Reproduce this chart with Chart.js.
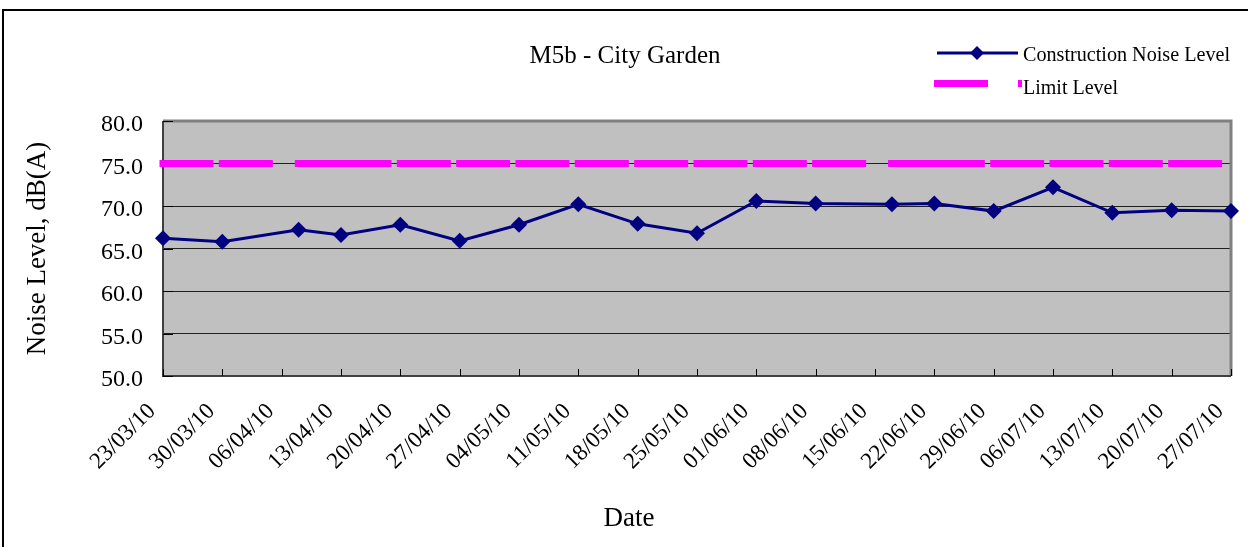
<!DOCTYPE html>
<html>
<head>
<meta charset="utf-8">
<script src="https://cdn.jsdelivr.net/npm/chart.js@4.4.0/dist/chart.umd.min.js"></script>
<style>
  body { margin: 0; background: #fff; }
  canvas { display: block; }
</style>
</head>
<body>
<canvas id="noiseChart" width="1248" height="547"></canvas>
<script>
// survey dates and measured levels
var dates = ['23/03/10', '30/03/10', '08/04/10', '13/04/10', '20/04/10', '27/04/10', '04/05/10',
             '11/05/10', '18/05/10', '25/05/10', '01/06/10', '08/06/10', '17/06/10', '22/06/10',
             '29/06/10', '06/07/10', '13/07/10', '20/07/10', '27/07/10'];
var noiseLevel = [66.2, 65.8, 67.2, 66.6, 67.8, 65.9, 67.8, 70.2, 67.9, 66.8,
                  70.6, 70.3, 70.2, 70.3, 69.4, 72.2, 69.2, 69.5, 69.4];
var limitLevel = [75, 75, 75, 75, 75, 75, 75, 75, 75, 75, 75, 75, 75, 75, 75, 75, 75, 75, 75];
var startDate = '23/03/10';
var endDate = '27/07/10';
var yTicks = [50, 55, 60, 65, 70, 75, 80];

var SERIF = '"Liberation Serif", "DejaVu Serif", serif';

function toDay(s) {
    var p = s.split('/');
    return Date.UTC(2000 + +p[2], +p[1] - 1, +p[0]) / 86400000;
}
function fromDay(d) {
    var dt = new Date(d * 86400000);
    var dd = String(dt.getUTCDate()).padStart(2, '0');
    var mm = String(dt.getUTCMonth() + 1).padStart(2, '0');
    var yy = String(dt.getUTCFullYear() % 100).padStart(2, '0');
    return dd + '/' + mm + '/' + yy;
}

var noisePts = dates.map(function(d, i) { return { x: toDay(d), y: noiseLevel[i] }; });
var limitPts = dates.map(function(d, i) { return { x: toDay(d), y: limitLevel[i] }; });

//**** grey plot background + outer frame
var backdrop = {
    id: 'backdrop',
    beforeDraw: function(chart) {
        var c = chart.ctx, a = chart.chartArea;
        c.save();
        c.fillStyle = '#fff';
        c.fillRect(0, 0, chart.width, chart.height);
        c.fillStyle = '#c0c0c0';
        c.fillRect(a.left, a.top, a.right - a.left, a.bottom - a.top);
        c.strokeStyle = '#000';
        c.lineWidth = 2;
        c.strokeRect(3, 10, 1400, 800);
        c.restore();
    },
    beforeDatasetsDraw: function(chart) {
        var c = chart.ctx, a = chart.chartArea;
        var xs = chart.scales.x, ys = chart.scales.y;
        c.save();
        // top + right edge
        c.strokeStyle = '#808080';
        c.lineWidth = 3;
        c.beginPath();
        c.moveTo(a.left, a.top);
        c.lineTo(a.right, a.top);
        c.lineTo(a.right, a.bottom);
        c.stroke();
        // axes
        c.strokeStyle = '#404040';
        c.lineWidth = 2;
        c.beginPath();
        c.moveTo(a.left, a.top);
        c.lineTo(a.left, a.bottom);
        c.lineTo(a.right, a.bottom);
        c.stroke();
        // tick marks drawn inside the plot
        c.strokeStyle = '#000';
        c.lineWidth = 1;
        c.beginPath();
        yTicks.forEach(function(v) {
            var py = Math.round(ys.getPixelForValue(v)) + 0.5;
            c.moveTo(a.left, py);
            c.lineTo(a.left + 10, py);
        });
        xs.ticks.forEach(function(t) {
            var px = Math.round(xs.getPixelForValue(t.value)) + 0.5;
            c.moveTo(px, a.bottom);
            c.lineTo(px, a.bottom - 7);
        });
        c.stroke();
        c.restore();
    },
    afterDraw: function(chart) {
        var c = chart.ctx;
        c.save();
        c.fillStyle = '#000';
        c.textBaseline = 'middle';
        c.font = '25px ' + SERIF;
        c.textAlign = 'center';
        c.fillText('M5b - City Garden', 625, 56, 196);
        c.font = '27px ' + SERIF;
        c.fillText('Date', 629, 519);

        // legend
        c.textAlign = 'left';
        c.font = '21px ' + SERIF;
        c.strokeStyle = '#000080';
        c.lineWidth = 3;
        c.beginPath();
        c.moveTo(937, 53);
        c.lineTo(1018, 53);
        c.stroke();
        c.fillStyle = '#000080';
        c.beginPath();
        c.moveTo(977, 46);
        c.lineTo(984, 53);
        c.lineTo(977, 60);
        c.lineTo(970, 53);
        c.closePath();
        c.fill();
        c.fillStyle = '#000';
        c.fillText('Construction Noise Level', 1023, 55, 207);

        c.fillStyle = '#ff00ff';
        c.fillRect(934, 80, 54, 7);
        c.fillRect(1018, 80, 4, 7);
        c.fillStyle = '#000';
        c.fillText('Limit Level', 1023, 88, 95);
        c.restore();
    }
};

var ctx = document.getElementById('noiseChart');
var noiseChart = new Chart(ctx, {
    type: 'line',
    data: {
        datasets: [{
            label: 'Construction Noise Level',
            data: noisePts,
            borderColor: '#000080',
            backgroundColor: '#000080',
            borderWidth: 3,
            pointStyle: 'rectRot',
            pointRadius: 8,
            pointBorderWidth: 0,
            pointBackgroundColor: '#000080',
            tension: 0,
            clip: false
        }, {
            label: 'Limit Level',
            data: limitPts,
            borderColor: '#ff00ff',
            borderWidth: 7,
            borderDash: [47, 29],
            borderCapStyle: 'square',
            pointRadius: 0,
            tension: 0,
            clip: false,
            // each segment starts its own dash run, like the original
            segment: {
                borderDashOffset: function(sc) { return sc.p0DataIndex * 0.001; }
            }
        }]
    },
    options: {
        responsive: false,
        animation: false,
        layout: { padding: { left: 0, right: 17, top: 121, bottom: 0 } },
        plugins: {
            legend: { display: false },
            tooltip: { enabled: false }
        },
        scales: {
            x: {
                type: 'linear',
                min: toDay(startDate),
                max: toDay(endDate),
                afterFit: function(s) {
                    s.height = 171;
                    s.paddingLeft = 0;
                    s.paddingRight = 0;
                },
                grid: { display: false },
                border: { display: false },
                ticks: {
                    stepSize: 7,
                    autoSkip: false,
                    minRotation: 45,
                    maxRotation: 45,
                    padding: 14,
                    labelOffset: -11,
                    color: '#000',
                    font: { family: SERIF, size: 23 },
                    callback: function(v) { return fromDay(v); }
                }
            },
            y: {
                min: 50,
                max: 80,
                afterFit: function(s) { s.width = 163; },
                grid: { color: '#202020', lineWidth: 1, drawTicks: false },
                border: { display: false },
                ticks: {
                    stepSize: 5,
                    padding: 20,
                    labelOffset: 4,
                    color: '#000',
                    font: { family: SERIF, size: 24 },
                    callback: function(v) { return v.toFixed(1); }
                },
                title: {
                    display: true,
                    text: 'Noise Level, dB(A)',
                    color: '#000',
                    font: { family: SERIF, size: 27 },
                    padding: { top: 22, bottom: 0 }
                }
            }
        }
    },
    plugins: [backdrop]
});
</script>
</body>
</html>
